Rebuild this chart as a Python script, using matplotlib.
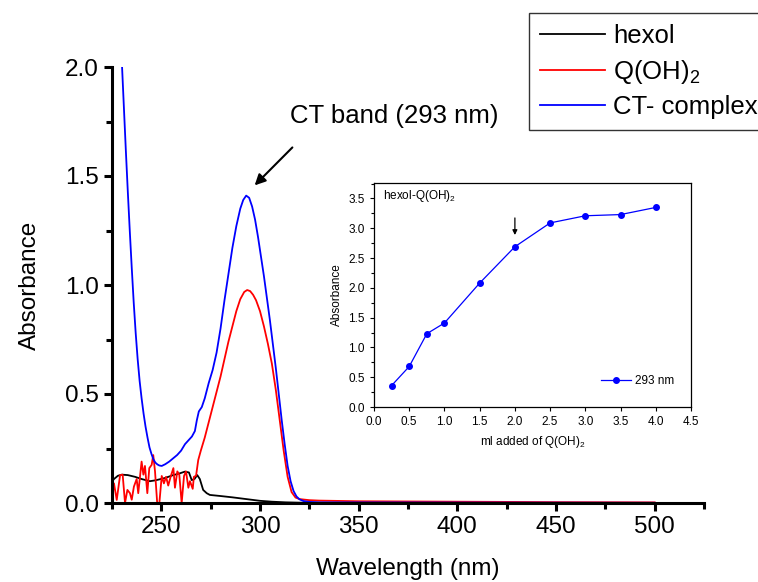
import matplotlib
matplotlib.use("Agg")
import matplotlib.pyplot as plt
from matplotlib.ticker import MultipleLocator, FormatStrFormatter

plt.rcParams['font.family'] = ['Liberation Sans', 'DejaVu Sans']
plt.rcParams['mathtext.default'] = 'regular'

# hexol spectrum
hexol_wl = [225, 226, 228, 230, 233, 236.7, 240, 244.2, 247, 249.3, 252, 256, 259, 262, 264,
            265.4, 266.8, 268.2, 269.5, 271.2, 273, 274.6, 280, 286, 293, 300, 306, 313, 320, 340, 400, 450, 500]
hexol_abs = [0.098, 0.11, 0.125, 0.13, 0.128, 0.12, 0.11, 0.10, 0.104, 0.109, 0.115, 0.128, 0.135, 0.144, 0.14,
             0.105, 0.11, 0.128, 0.11, 0.06, 0.045, 0.037, 0.032, 0.026, 0.018, 0.01, 0.006, 0.003, 0.0015, 0.001, 0.0005, 0.0003, 0.0002]

# Q(OH)2 spectrum (noisy below 268 nm)
q_wl = [225.0, 226.0, 227.4, 229.1, 230.4, 231.6, 232.8, 234.1, 235.0, 236.1, 237.5, 238.3, 240.0, 240.9,
        241.7, 242.9, 243.9, 245.1, 245.9, 246.8, 247.9, 249.0, 250.2, 251.3, 252.4, 253.5, 254.7, 256.1,
        256.9, 258.1, 259.1, 260.3, 261.5, 262.5, 263.7, 264.5, 265.9, 266.5, 267.6, 268.7,
        270, 272, 274, 276, 278, 280, 282, 284, 286, 288, 290, 292, 293.5, 295, 296.5, 298, 300,
        302, 304, 306, 308, 310, 312, 314, 316, 318, 320, 325, 330, 350, 400, 450, 500]
q_abs = [0.014, 0.09, 0.014, 0.128, 0.13, 0.0, 0.06, 0.045, 0.015, 0.075, 0.11, 0.045, 0.19, 0.13,
         0.17, 0.045, 0.16, 0.175, 0.22, 0.145, 0.0, 0.0, 0.124, 0.09, 0.12, 0.08, 0.12, 0.16,
         0.07, 0.145, 0.13, 0.0, 0.124, 0.145, 0.07, 0.1, 0.065, 0.12, 0.125, 0.197,
         0.24, 0.30, 0.37, 0.44, 0.51, 0.58, 0.66, 0.74, 0.81, 0.88, 0.935, 0.968, 0.977, 0.972, 0.955, 0.93, 0.88,
         0.81, 0.73, 0.64, 0.52, 0.38, 0.24, 0.12, 0.05, 0.025, 0.018, 0.013, 0.011, 0.008, 0.006, 0.004, 0.003]

# CT complex spectrum
ct_wl = [230, 231, 232, 233, 234, 235, 236, 237, 238, 239, 240, 241, 242, 243, 244, 245, 246, 247, 248, 249,
         250.2, 252, 254, 256, 258, 260, 262, 264, 265.5, 267, 268, 269, 270.5, 272, 274, 276, 278,
         280, 282, 284, 286, 288, 290, 291.5, 293, 294.5, 296, 297.5, 299, 300.5, 302, 303.5, 305,
         306.5, 308, 309.5, 311, 312.5, 314, 315.5, 317, 318.5, 320, 322, 325, 330, 400, 500]
ct_abs = [2.02, 1.82, 1.62, 1.43, 1.25, 1.08, 0.92, 0.78, 0.66, 0.56, 0.48, 0.41, 0.35, 0.30, 0.255, 0.225,
          0.20, 0.185, 0.177, 0.172, 0.17, 0.178, 0.19, 0.205, 0.22, 0.24, 0.27, 0.29, 0.305, 0.33, 0.38,
          0.42, 0.44, 0.48, 0.55, 0.61, 0.69, 0.80, 0.93, 1.05, 1.17, 1.27, 1.35, 1.39, 1.41, 1.40, 1.36,
          1.30, 1.22, 1.13, 1.04, 0.94, 0.84, 0.73, 0.62, 0.50, 0.38, 0.27, 0.17, 0.10, 0.055, 0.03, 0.017,
          0.009, 0.005, 0.003, 0.002, 0.001]

# inset titration data
ml_added = [0.25, 0.5, 0.75, 1.0, 1.5, 2.0, 2.5, 3.0, 3.5, 4.0]
abs_293 = [0.36, 0.68, 1.23, 1.41, 2.08, 2.69, 3.09, 3.21, 3.23, 3.35]

fig = plt.figure(figsize=(7.58, 5.82), dpi=100)
ax = fig.add_axes([112 / 758, 79 / 582, 592 / 758, 436 / 582])

l1, = ax.plot(hexol_wl, hexol_abs, color='black', lw=1.3)
l2, = ax.plot(q_wl, q_abs, color='red', lw=1.3)
l3, = ax.plot(ct_wl, ct_abs, color='blue', lw=1.3)

ax.set_xlim(225, 525)
ax.set_ylim(0, 2.0)
ax.set_xticks([250, 300, 350, 400, 450, 500])
ax.xaxis.set_minor_locator(MultipleLocator(25))
ax.yaxis.set_major_locator(MultipleLocator(0.5))
ax.yaxis.set_minor_locator(MultipleLocator(0.25))
ax.yaxis.set_major_formatter(FormatStrFormatter('%.1f'))
ax.spines['top'].set_visible(False)
ax.spines['right'].set_visible(False)
ax.spines['left'].set_linewidth(2.2)
ax.spines['bottom'].set_linewidth(2.2)
ax.tick_params(which='major', direction='out', length=6, width=2.2, labelsize=17.5)
ax.tick_params(which='minor', direction='out', length=4, width=2.2)
ax.set_xlabel('Wavelength (nm)', fontsize=17.5)
ax.set_ylabel('Absorbance', fontsize=17.5)
ax.xaxis.set_label_coords(0.5, -0.127)
ax.yaxis.set_label_coords(-0.12, 0.5)

ax.annotate('', xy=(296.3, 1.448), xytext=(317.4, 1.64),
            arrowprops=dict(arrowstyle='-|>', color='black', lw=1.5, mutation_scale=16))
ax.text(367.9, 1.775, 'CT band (293 nm)', fontsize=18.5, ha='center', va='center')

leg = fig.legend([l1, l2, l3], ['hexol', 'Q(OH)$_2$', 'CT- complex'],
                 loc='upper left', bbox_to_anchor=(529 / 758, 1 - 13 / 582), borderaxespad=0,
                 fontsize=18.5, frameon=True, fancybox=False, edgecolor='black',
                 handlelength=2.55, handletextpad=0.3, labelspacing=0.38, borderpad=0.42)
leg.get_frame().set_linewidth(1.0)

# inset
ins = fig.add_axes([374 / 758, 175 / 582, 317 / 758, 224 / 582])
ins.plot(ml_added, abs_293, color='blue', lw=0.9, marker='o', markersize=4, label='293 nm')
ins.set_xlim(0, 4.5)
ins.set_ylim(0, 3.76)
ins.xaxis.set_major_locator(MultipleLocator(0.5))
ins.yaxis.set_major_locator(MultipleLocator(0.5))
ins.yaxis.set_minor_locator(MultipleLocator(0.25))
ins.xaxis.set_major_formatter(FormatStrFormatter('%.1f'))
ins.yaxis.set_major_formatter(FormatStrFormatter('%.1f'))
ins.tick_params(which='major', direction='out', length=3, width=0.8, labelsize=8.5)
ins.tick_params(which='minor', direction='out', length=2, width=0.8)
for s in ins.spines.values():
    s.set_linewidth(0.9)
ins.set_xlabel('ml added of Q(OH)$_2$', fontsize=8.5)
ins.set_ylabel('Absorbance', fontsize=8.5)
ins.text(0.028, 0.94, 'hexol-Q(OH)$_2$', transform=ins.transAxes, fontsize=8.5, va='center')
ins.annotate('', xy=(2.0, 2.84), xytext=(2.0, 3.22),
             arrowprops=dict(arrowstyle='-|>', color='black', lw=0.9, mutation_scale=7))
ins.legend(loc='lower right', frameon=False, fontsize=8.5, handlelength=2.6, handletextpad=0.3,
           bbox_to_anchor=(0.98, 0.04))

fig.savefig('out.png', dpi=100)
